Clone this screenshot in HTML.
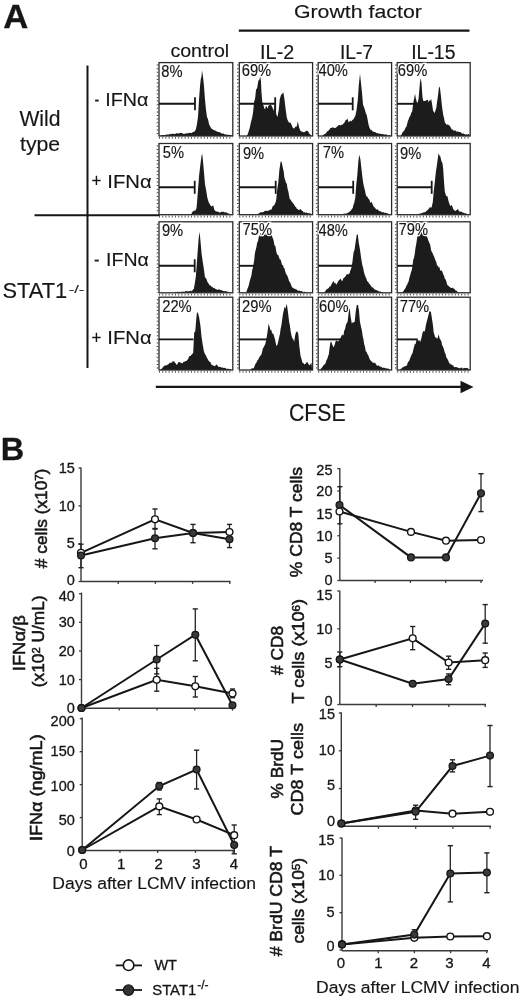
<!DOCTYPE html>
<html><head><meta charset="utf-8"><style>
html,body{margin:0;padding:0;background:#fff;}
svg{display:block;filter:blur(0.3px);}
text{font-family:"Liberation Sans", sans-serif; fill:#161616; stroke:#161616; stroke-width:0.3px;}
.yl{stroke-width:0.55px;}
.ta{stroke-width:0.15px;}
.halo{stroke:#fff; fill:#fff; stroke-width:2.6px;}
</style></head><body>
<svg width="520" height="998" viewBox="0 0 520 998">
<rect width="520" height="998" fill="#fff"/>
<g transform="matrix(0.9913,0,0,0.9417,0.33,1.63)"><text id="tA" x="3" y="28" font-size="35" text-anchor="start" font-weight="bold" >A</text></g>
<g transform="matrix(1.0664,0,0,0.9600,-19.58,0.62)"><text id="tGF" class="ta" x="294" y="17.8" font-size="20" text-anchor="start" font-weight="normal" >Growth factor</text></g>
<line x1="238.8" y1="30.6" x2="469.5" y2="30.6" stroke="#161616" stroke-width="2.2" />
<g transform="matrix(1.0161,0,0,0.9200,-2.95,3.94)"><text id="tctl" class="ta" x="170.6" y="57.5" font-size="19.3" text-anchor="start" font-weight="normal" >control</text></g>
<g transform="matrix(1.0433,0,0,1.0846,-12.70,-4.99)"><text id="tIL2" class="ta" x="261.5" y="59" font-size="19" text-anchor="start" font-weight="normal" >IL-2</text></g>
<g transform="matrix(1.0100,0,0,1.1000,-5.44,-5.60)"><text id="tIL7" class="ta" x="342" y="59" font-size="19" text-anchor="start" font-weight="normal" >IL-7</text></g>
<g transform="matrix(1.0244,0,0,1.1000,-11.50,-5.60)"><text id="tIL15" class="ta" x="412.6" y="59" font-size="19" text-anchor="start" font-weight="normal" >IL-15</text></g>
<g transform="matrix(1.0075,0,0,1.0267,0.06,-2.93)"><text id="tWild" class="ta" x="19.2" y="125.4" font-size="21" text-anchor="start" font-weight="normal" >Wild</text></g>
<g transform="matrix(1.0132,0,0,1.0000,-0.78,0.00)"><text id="ttype" class="ta" x="20.5" y="151.5" font-size="21" text-anchor="start" font-weight="normal" >type</text></g>
<g transform="matrix(0.7600,0,0,1.0000,22.80,0.00)"><text id="tsg0" class="ta" x="94.5" y="106.5" font-size="19" text-anchor="start" font-weight="normal" >-</text></g>
<g transform="matrix(1.0375,0,0,1.0000,-5.55,-0.50)"><text id="tifn0" class="ta" x="106.8" y="106.5" font-size="19" text-anchor="start" font-weight="normal" >IFN&#945;</text></g>
<g transform="matrix(0.8900,0,0,1.0000,10.02,0.00)"><text id="tsg1" class="ta" x="91.5" y="187.3" font-size="19" text-anchor="start" font-weight="normal" >+</text></g>
<g transform="matrix(1.0667,0,0,0.9846,-8.53,3.18)"><text id="tifn1" class="ta" x="108.6" y="187.3" font-size="19" text-anchor="start" font-weight="normal" >IFN&#945;</text></g>
<g transform="matrix(0.8600,0,0,1.0000,12.80,0.00)"><text id="tsg2" class="ta" x="94.5" y="266.5" font-size="19" text-anchor="start" font-weight="normal" >-</text></g>
<g transform="matrix(1.0275,0,0,1.0000,-3.67,-0.50)"><text id="tifn2" class="ta" x="106.8" y="266.5" font-size="19" text-anchor="start" font-weight="normal" >IFN&#945;</text></g>
<g transform="matrix(0.8900,0,0,1.0000,10.02,0.00)"><text id="tsg3" class="ta" x="91.5" y="343.8" font-size="19" text-anchor="start" font-weight="normal" >+</text></g>
<g transform="matrix(1.0667,0,0,1.0000,-8.53,-0.20)"><text id="tifn3" class="ta" x="108.6" y="343.8" font-size="19" text-anchor="start" font-weight="normal" >IFN&#945;</text></g>
<g transform="matrix(1.0644,0,0,1.0500,-1.52,-15.45)"><text id="tSTAT" class="ta" x="3.8" y="298.5" font-size="20.5" text-anchor="start" font-weight="normal" >STAT1</text></g>
<g transform="matrix(1.2727,0,0,0.7778,-20.36,64.73)"><text id="tsup" class="ta" x="70" y="293.5" font-size="13" text-anchor="start" font-weight="normal" >-/-</text></g>
<line x1="87.5" y1="65.5" x2="87.5" y2="368" stroke="#161616" stroke-width="2" />
<line x1="34.5" y1="215.2" x2="160" y2="215.2" stroke="#161616" stroke-width="2" />
<line x1="155.8" y1="386.9" x2="462" y2="386.9" stroke="#161616" stroke-width="2.3" />
<polygon points="460.5,380.7 473.5,386.9 460.5,393.3" fill="#161616"/>
<g transform="matrix(1.0111,0,0,1.1000,-4.23,-41.60)"><text id="tCFSE" class="ta" x="290" y="420.4" font-size="21" text-anchor="start" font-weight="normal" >CFSE</text></g>
<polygon points="160.0,136.0 160.0,135.8 160.8,135.6 161.7,135.3 162.5,135.0 163.3,135.2 164.2,135.0 165.0,135.2 165.8,134.7 166.7,134.6 167.5,134.6 168.3,134.7 169.2,134.2 170.0,133.8 170.8,134.2 171.7,133.9 172.5,133.5 173.3,134.1 174.2,134.1 175.0,133.8 175.8,133.8 176.7,133.1 177.5,133.5 178.3,133.6 179.2,133.3 180.0,133.0 180.8,132.7 181.7,133.1 182.5,133.4 183.3,133.7 184.2,133.9 185.0,133.5 185.8,133.8 186.7,133.1 187.5,133.6 188.3,133.2 189.2,132.6 190.0,133.2 190.8,132.7 191.6,132.9 192.4,132.6 193.2,131.7 194.0,132.0 195.0,130.9 196.0,128.7 197.0,123.7 198.0,116.8 199.0,100.0 200.0,86.3 200.8,78.8 201.5,76.4 202.0,70.2 203.0,76.7 204.0,86.3 205.0,99.4 206.0,110.0 207.0,117.0 208.0,119.2 209.0,124.1 210.0,126.3 211.0,128.1 211.8,128.9 212.5,129.1 213.2,130.1 214.0,130.1 214.8,130.5 215.6,130.7 216.4,131.3 217.2,131.5 218.0,132.1 218.8,132.1 219.6,132.3 220.4,132.6 221.2,133.3 222.0,133.7 222.8,133.6 223.5,133.4 224.2,134.1 225.0,134.4 225.8,134.5 226.5,134.6 227.2,134.7 228.0,134.9 228.8,134.7 229.6,134.8 230.4,135.3 231.2,135.1 232.0,135.5 232.0,136.0" fill="#1c1c1c"/>
<rect x="159.0" y="62.6" width="73.8" height="73.4" fill="none" stroke="#2a2a2a" stroke-width="1.3"/>
<line x1="157.5" y1="64.6" x2="157.5" y2="136.0" stroke="#444" stroke-width="1.6" stroke-dasharray="1 2.6"/>
<line x1="159.0" y1="137.8" x2="232.8" y2="137.8" stroke="#555" stroke-width="1.8" stroke-dasharray="1 2.2"/>
<line x1="159.0" y1="103.8" x2="195.0" y2="103.8" stroke="#161616" stroke-width="1.9" />
<line x1="195.0" y1="97.3" x2="195.0" y2="110.3" stroke="#161616" stroke-width="1.8" />
<text transform="translate(161.2,76.8) scale(0.92,1)" x="0" y="0" font-size="16" class="halo">8%</text>
<text transform="translate(161.2,76.8) scale(0.92,1)" x="0" y="0" font-size="16" class="ta">8%</text>
<polygon points="246.8,136.0 246.8,135.7 247.6,134.5 248.3,132.6 249.1,129.7 249.8,127.7 250.6,123.8 251.4,120.3 252.2,117.5 253.0,112.8 254.2,101.5 255.2,98.1 256.0,89.7 257.2,88.0 258.3,80.8 259.4,79.7 260.2,75.7 261.0,81.8 261.4,91.0 262.2,101.3 263.0,104.6 263.8,106.2 264.5,109.1 265.2,108.7 266.0,105.7 266.8,106.7 267.5,108.8 268.2,106.2 269.0,105.2 269.8,105.1 270.6,104.6 271.4,105.4 272.2,107.0 272.9,108.5 273.7,110.7 274.4,106.8 275.2,102.5 276.3,114.6 277.5,117.1 278.8,109.4 279.8,99.0 281.0,94.9 282.2,93.7 283.4,92.4 284.5,99.4 285.5,108.3 286.8,117.4 287.6,120.1 288.3,121.4 289.1,122.6 289.8,122.8 290.6,122.7 291.4,124.6 292.2,126.6 292.9,127.7 293.7,128.5 294.4,128.2 295.2,127.1 296.0,126.5 296.8,126.4 297.8,121.3 299.0,127.2 299.8,129.3 300.6,131.0 301.4,131.4 302.1,131.4 302.9,131.9 303.7,132.3 304.5,132.2 305.2,131.6 306.0,131.1 306.8,130.8 307.6,131.0 308.3,131.8 309.1,133.3 309.9,134.3 310.6,134.7 311.4,135.4 311.4,136.0" fill="#1c1c1c"/>
<rect x="239.3" y="62.6" width="73.3" height="73.4" fill="none" stroke="#2a2a2a" stroke-width="1.3"/>
<line x1="237.8" y1="64.6" x2="237.8" y2="136.0" stroke="#444" stroke-width="1.6" stroke-dasharray="1 2.6"/>
<line x1="239.3" y1="137.8" x2="312.6" y2="137.8" stroke="#555" stroke-width="1.8" stroke-dasharray="1 2.2"/>
<line x1="239.3" y1="103.8" x2="275.2" y2="103.8" stroke="#161616" stroke-width="1.9" />
<line x1="275.2" y1="97.3" x2="275.2" y2="110.3" stroke="#161616" stroke-width="1.8" />
<text transform="translate(241.7,76) scale(0.92,1)" x="0" y="0" font-size="16" class="halo">69%</text>
<text transform="translate(241.7,76) scale(0.92,1)" x="0" y="0" font-size="16" class="ta">69%</text>
<polygon points="321.9,136.0 321.9,136.0 322.7,135.9 323.4,134.7 324.2,134.2 325.0,134.1 325.8,133.3 326.5,132.5 327.3,131.3 328.1,130.9 328.9,130.1 329.6,129.4 330.4,128.0 331.3,127.9 332.3,127.4 333.2,127.3 334.1,127.9 334.9,128.1 335.8,127.8 336.9,126.8 338.0,125.7 338.8,125.1 339.6,125.0 340.4,125.5 341.2,125.1 341.9,124.6 342.7,124.8 343.4,123.6 344.2,123.1 345.0,121.4 345.8,119.9 346.6,119.7 347.3,118.5 348.1,120.4 348.8,122.4 349.6,121.6 350.4,120.4 351.2,121.5 352.0,120.6 352.7,119.7 353.5,119.3 354.4,117.5 355.3,116.0 356.5,110.4 357.8,100.1 358.8,85.1 360.0,73.7 360.8,81.2 361.9,91.7 363.0,104.5 364.2,107.8 365.0,110.0 365.8,113.3 366.6,114.7 367.3,117.7 368.5,124.4 369.4,127.5 370.4,129.7 371.2,129.7 371.9,130.4 372.7,131.4 373.5,131.7 374.2,131.9 375.0,132.0 375.8,132.4 376.5,133.2 377.3,132.8 378.1,133.7 378.9,133.2 379.6,133.9 380.4,133.5 381.2,134.2 382.0,134.1 382.7,134.1 383.5,134.2 384.3,134.5 385.0,134.5 385.8,134.4 386.6,134.5 387.3,134.9 388.1,135.4 388.9,135.3 389.7,135.0 390.4,135.8 391.2,135.7 391.2,136.0" fill="#1c1c1c"/>
<rect x="318.2" y="62.6" width="73.4" height="73.4" fill="none" stroke="#2a2a2a" stroke-width="1.3"/>
<line x1="316.7" y1="64.6" x2="316.7" y2="136.0" stroke="#444" stroke-width="1.6" stroke-dasharray="1 2.6"/>
<line x1="318.2" y1="137.8" x2="391.6" y2="137.8" stroke="#555" stroke-width="1.8" stroke-dasharray="1 2.2"/>
<line x1="318.2" y1="103.8" x2="352.7" y2="103.8" stroke="#161616" stroke-width="1.9" />
<line x1="352.7" y1="97.3" x2="352.7" y2="110.3" stroke="#161616" stroke-width="1.8" />
<text transform="translate(318.5,76.2) scale(0.92,1)" x="0" y="0" font-size="16" class="halo">40%</text>
<text transform="translate(318.5,76.2) scale(0.92,1)" x="0" y="0" font-size="16" class="ta">40%</text>
<polygon points="400.9,136.0 400.9,135.8 401.7,134.2 402.5,132.2 403.3,131.6 404.0,130.9 404.8,129.5 405.6,127.5 406.3,126.9 407.1,124.2 407.9,121.1 408.6,119.5 409.4,116.9 410.2,116.2 411.2,113.0 412.2,111.2 413.2,103.6 414.3,97.4 415.1,93.7 415.8,98.6 417.1,103.1 417.9,101.7 418.6,98.6 419.8,84.2 420.6,78.1 421.4,82.1 422.5,96.9 423.2,100.9 424.0,100.7 424.8,101.1 425.5,101.3 426.3,100.0 427.1,99.9 427.9,99.7 428.6,102.5 429.4,100.2 430.2,100.7 431.2,99.0 432.2,105.0 433.2,111.4 434.0,111.6 434.8,113.4 435.6,109.8 436.3,108.1 437.1,101.7 437.8,96.9 438.9,88.0 439.8,86.4 440.9,95.7 442.0,106.4 443.2,114.8 444.0,118.0 444.8,122.3 445.6,123.2 446.3,124.4 447.1,124.9 447.9,124.1 448.6,125.2 449.4,125.3 450.2,126.7 450.9,127.8 451.7,129.5 452.5,129.2 453.2,130.4 454.0,130.5 454.8,130.5 455.6,130.5 456.3,131.6 457.1,131.9 457.8,131.0 458.6,132.1 459.4,132.0 460.1,132.0 460.9,132.5 461.7,133.3 462.5,133.7 463.2,133.2 464.0,134.1 464.7,133.9 465.5,134.8 466.3,134.3 467.1,134.6 467.8,134.6 468.6,134.0 469.4,133.8 469.4,136.0" fill="#1c1c1c"/>
<rect x="397.2" y="62.6" width="73.0" height="73.4" fill="none" stroke="#2a2a2a" stroke-width="1.3"/>
<line x1="395.7" y1="64.6" x2="395.7" y2="136.0" stroke="#444" stroke-width="1.6" stroke-dasharray="1 2.6"/>
<line x1="397.2" y1="137.8" x2="470.2" y2="137.8" stroke="#555" stroke-width="1.8" stroke-dasharray="1 2.2"/>
<line x1="397.2" y1="103.8" x2="416.0" y2="103.8" stroke="#161616" stroke-width="1.9" />
<text transform="translate(397.8,76.2) scale(0.92,1)" x="0" y="0" font-size="16" class="halo">69%</text>
<text transform="translate(397.8,76.2) scale(0.92,1)" x="0" y="0" font-size="16" class="ta">69%</text>
<polygon points="191.2,214.7 191.2,214.4 191.9,212.7 192.7,211.4 193.6,210.9 194.4,210.6 195.3,210.7 196.5,208.2 197.3,199.1 198.1,188.4 199.2,174.4 200.4,164.8 201.5,155.8 202.2,153.8 203.0,161.3 203.9,171.2 205.0,184.3 206.1,190.1 207.3,197.6 208.1,200.5 208.8,202.5 209.6,203.8 210.4,205.3 211.2,206.5 212.2,205.9 213.2,205.2 214.2,209.5 215.0,210.6 215.7,211.2 216.5,211.5 217.3,211.4 218.1,211.9 218.8,211.7 219.6,212.7 220.4,212.5 221.1,211.9 221.9,211.5 222.7,211.9 223.5,211.8 224.2,212.3 225.0,212.4 225.8,212.3 226.6,212.6 227.3,213.1 228.1,213.4 228.8,213.5 229.6,213.9 230.4,214.6 231.2,214.6 231.2,214.7" fill="#1c1c1c"/>
<rect x="159.0" y="143.5" width="73.8" height="71.2" fill="none" stroke="#2a2a2a" stroke-width="1.3"/>
<line x1="157.5" y1="145.5" x2="157.5" y2="214.7" stroke="#444" stroke-width="1.6" stroke-dasharray="1 2.6"/>
<line x1="159.0" y1="216.5" x2="232.8" y2="216.5" stroke="#555" stroke-width="1.8" stroke-dasharray="1 2.2"/>
<line x1="159.0" y1="187.3" x2="194.7" y2="187.3" stroke="#161616" stroke-width="1.9" />
<line x1="194.7" y1="180.8" x2="194.7" y2="193.8" stroke="#161616" stroke-width="1.8" />
<text transform="translate(162.7,158.2) scale(0.92,1)" x="0" y="0" font-size="16" class="halo">5%</text>
<text transform="translate(162.7,158.2) scale(0.92,1)" x="0" y="0" font-size="16" class="ta">5%</text>
<polygon points="256.0,214.7 256.0,214.7 256.8,214.4 257.5,214.1 258.2,213.8 259.0,213.2 259.8,213.1 260.6,212.1 261.4,212.2 262.1,212.4 262.9,211.9 263.7,211.9 264.5,210.9 265.2,211.1 266.0,210.7 266.8,210.8 267.9,210.9 269.0,210.3 269.8,210.0 270.6,209.5 271.4,209.7 272.1,208.0 272.9,205.7 273.9,205.8 274.8,204.1 275.6,202.5 276.3,199.3 277.2,189.6 278.3,182.7 279.4,169.7 280.6,161.7 281.5,161.5 282.5,166.2 283.7,171.5 284.4,177.8 285.2,180.1 286.0,182.8 286.8,183.7 287.6,188.9 288.3,191.3 289.1,195.7 289.8,199.3 290.6,199.6 291.4,201.3 292.2,202.0 292.9,203.0 293.7,203.9 294.5,205.3 295.2,206.8 296.0,207.1 296.8,208.7 297.5,209.0 298.3,209.8 299.1,210.1 299.8,209.4 300.6,209.0 301.4,210.0 302.1,211.0 302.9,211.1 303.7,212.8 304.5,212.0 305.2,212.8 306.0,213.0 306.8,212.3 307.5,213.2 308.3,212.9 309.1,213.4 309.9,213.2 310.6,213.6 311.4,214.0 312.2,214.6 312.2,214.7" fill="#1c1c1c"/>
<rect x="239.3" y="143.5" width="73.3" height="71.2" fill="none" stroke="#2a2a2a" stroke-width="1.3"/>
<line x1="237.8" y1="145.5" x2="237.8" y2="214.7" stroke="#444" stroke-width="1.6" stroke-dasharray="1 2.6"/>
<line x1="239.3" y1="216.5" x2="312.6" y2="216.5" stroke="#555" stroke-width="1.8" stroke-dasharray="1 2.2"/>
<line x1="239.3" y1="187.3" x2="275.7" y2="187.3" stroke="#161616" stroke-width="1.9" />
<line x1="275.7" y1="180.8" x2="275.7" y2="193.8" stroke="#161616" stroke-width="1.8" />
<text transform="translate(242.89999999999998,158.5) scale(0.92,1)" x="0" y="0" font-size="16" class="halo">9%</text>
<text transform="translate(242.89999999999998,158.5) scale(0.92,1)" x="0" y="0" font-size="16" class="ta">9%</text>
<polygon points="341.2,214.7 341.2,214.7 342.0,214.7 342.7,214.2 343.5,213.8 344.3,213.4 345.0,213.8 345.8,213.5 346.6,213.4 347.3,212.8 348.1,212.9 348.8,212.1 349.6,211.8 350.4,211.0 351.2,209.9 351.9,208.9 352.7,207.9 353.4,204.9 354.2,203.1 355.3,197.6 356.2,185.5 357.3,174.9 358.4,160.9 359.3,154.8 360.4,159.2 361.5,169.2 362.7,179.5 363.4,184.0 364.2,187.6 365.0,190.6 365.8,194.7 366.6,196.5 367.3,196.6 368.1,198.6 368.8,198.7 369.6,200.2 370.4,203.3 371.1,202.0 371.9,202.2 372.7,204.5 373.5,206.2 374.2,207.1 375.0,208.0 375.8,208.8 376.5,209.8 377.3,209.1 378.1,210.0 378.8,210.7 379.6,210.9 380.4,211.5 381.1,211.3 381.9,212.4 382.7,212.3 383.5,212.1 384.2,212.9 385.0,212.7 385.8,212.8 386.5,213.3 387.3,213.2 388.1,213.5 388.9,214.3 389.6,214.3 390.4,214.0 391.2,214.6 391.2,214.7" fill="#1c1c1c"/>
<rect x="318.2" y="143.5" width="73.4" height="71.2" fill="none" stroke="#2a2a2a" stroke-width="1.3"/>
<line x1="316.7" y1="145.5" x2="316.7" y2="214.7" stroke="#444" stroke-width="1.6" stroke-dasharray="1 2.6"/>
<line x1="318.2" y1="216.5" x2="391.6" y2="216.5" stroke="#555" stroke-width="1.8" stroke-dasharray="1 2.2"/>
<line x1="318.2" y1="187.3" x2="353.2" y2="187.3" stroke="#161616" stroke-width="1.9" />
<line x1="353.2" y1="180.8" x2="353.2" y2="193.8" stroke="#161616" stroke-width="1.8" />
<text transform="translate(322.7,158.2) scale(0.92,1)" x="0" y="0" font-size="16" class="halo">7%</text>
<text transform="translate(322.7,158.2) scale(0.92,1)" x="0" y="0" font-size="16" class="ta">7%</text>
<polygon points="415.5,214.7 415.5,214.5 416.3,214.2 417.1,214.4 417.8,213.8 418.6,214.1 419.4,213.8 420.1,213.4 420.9,213.6 421.7,213.1 422.5,213.1 423.2,212.5 424.0,212.2 424.8,212.2 425.6,212.1 426.3,210.9 427.1,210.5 427.9,209.8 428.6,209.1 429.4,207.8 430.2,206.8 430.9,207.9 431.7,207.1 432.8,202.1 433.7,191.8 434.8,181.9 435.8,172.4 437.1,163.8 437.8,158.5 438.6,153.0 439.4,155.4 440.2,156.1 441.4,160.9 442.5,163.2 443.2,169.1 444.0,181.7 444.8,191.6 446.0,195.8 446.8,196.0 447.5,196.6 448.6,201.6 449.4,203.8 450.2,205.9 450.9,205.8 451.7,204.9 452.4,206.6 453.2,209.3 454.0,209.8 454.7,210.7 455.5,211.0 456.3,210.0 457.0,210.3 457.8,208.7 458.6,210.3 459.4,211.8 460.2,211.3 460.9,211.9 461.7,211.6 462.5,212.5 463.3,212.8 464.0,212.8 464.8,213.4 465.5,213.1 466.3,213.7 467.1,213.9 468.0,214.1 468.9,214.3 469.7,214.6 469.7,214.7" fill="#1c1c1c"/>
<rect x="397.2" y="143.5" width="73.0" height="71.2" fill="none" stroke="#2a2a2a" stroke-width="1.3"/>
<line x1="395.7" y1="145.5" x2="395.7" y2="214.7" stroke="#444" stroke-width="1.6" stroke-dasharray="1 2.6"/>
<line x1="397.2" y1="216.5" x2="470.2" y2="216.5" stroke="#555" stroke-width="1.8" stroke-dasharray="1 2.2"/>
<line x1="397.2" y1="187.3" x2="431.7" y2="187.3" stroke="#161616" stroke-width="1.9" />
<line x1="431.7" y1="180.8" x2="431.7" y2="193.8" stroke="#161616" stroke-width="1.8" />
<text transform="translate(400.09999999999997,158.5) scale(0.92,1)" x="0" y="0" font-size="16" class="halo">9%</text>
<text transform="translate(400.09999999999997,158.5) scale(0.92,1)" x="0" y="0" font-size="16" class="ta">9%</text>
<polygon points="175.0,292.8 175.0,292.4 175.0,292.6 175.8,291.8 176.5,292.3 177.3,291.7 178.1,291.8 178.9,292.4 179.6,291.6 180.4,292.0 181.2,291.8 181.9,291.7 182.7,291.7 183.5,291.4 184.3,291.9 185.0,291.2 185.8,291.3 186.6,291.0 187.3,291.2 188.1,291.2 188.9,291.6 189.6,291.1 190.4,290.8 191.1,290.8 191.9,291.5 192.9,289.5 193.8,288.9 194.7,284.0 195.8,276.8 196.8,263.7 197.8,249.5 198.7,238.0 199.6,231.8 200.5,241.3 201.6,253.7 202.7,261.6 203.9,269.3 205.0,277.4 205.8,278.0 206.5,279.0 207.3,281.8 208.1,282.7 208.9,284.0 209.6,285.2 210.4,285.4 211.2,286.1 211.9,287.3 212.7,287.0 213.5,288.3 214.2,287.8 215.0,288.8 215.8,289.0 216.5,289.6 217.3,289.7 218.1,289.5 218.8,289.4 219.6,289.5 220.4,290.1 221.2,290.3 222.0,290.1 222.7,291.1 223.5,290.9 224.3,291.3 225.0,291.0 225.8,291.3 226.6,291.2 227.3,291.7 228.1,291.8 228.9,292.1 229.7,292.2 230.4,292.7 231.2,292.6 231.2,292.8" fill="#1c1c1c"/>
<rect x="159.0" y="221.8" width="73.8" height="71.0" fill="none" stroke="#2a2a2a" stroke-width="1.3"/>
<line x1="157.5" y1="223.8" x2="157.5" y2="292.8" stroke="#444" stroke-width="1.6" stroke-dasharray="1 2.6"/>
<line x1="159.0" y1="294.6" x2="232.8" y2="294.6" stroke="#555" stroke-width="1.8" stroke-dasharray="1 2.2"/>
<line x1="159.0" y1="265.8" x2="194.7" y2="265.8" stroke="#161616" stroke-width="1.9" />
<line x1="194.7" y1="259.3" x2="194.7" y2="272.3" stroke="#161616" stroke-width="1.8" />
<text transform="translate(161.89999999999998,235.7) scale(0.92,1)" x="0" y="0" font-size="16" class="halo">9%</text>
<text transform="translate(161.89999999999998,235.7) scale(0.92,1)" x="0" y="0" font-size="16" class="ta">9%</text>
<polygon points="246.0,292.8 246.0,292.8 246.8,290.7 247.5,288.4 248.5,286.2 249.5,281.9 250.4,278.8 251.4,275.8 252.2,270.1 253.0,267.3 254.2,259.9 254.9,253.3 255.7,249.8 256.4,247.3 257.2,242.4 258.0,241.3 258.8,236.4 259.7,235.3 260.6,233.1 261.4,234.2 262.2,235.5 262.9,234.6 263.7,236.3 264.4,234.0 265.2,235.4 266.0,233.0 266.8,234.7 267.9,235.4 269.0,234.5 270.0,233.8 271.0,233.0 271.9,236.2 272.9,238.2 273.7,240.9 274.5,245.5 275.4,246.1 276.3,251.8 277.3,254.7 278.3,255.0 279.1,257.6 279.8,259.5 280.6,259.6 281.4,262.3 282.1,265.3 282.9,264.7 283.7,267.7 284.4,268.3 285.2,271.2 286.0,273.9 286.7,274.5 287.5,276.3 288.3,278.3 289.0,280.9 289.8,281.9 290.6,283.5 291.4,285.7 292.2,287.7 293.0,287.6 293.7,288.2 294.5,288.9 295.2,288.7 296.0,289.6 296.8,289.6 297.5,290.4 298.3,290.9 299.1,290.3 299.9,291.0 300.6,291.2 301.4,291.0 302.2,291.3 303.0,292.1 303.7,292.2 304.5,291.6 305.2,292.2 306.0,292.6 306.8,292.1 307.5,292.6 308.3,292.6 308.3,292.8" fill="#1c1c1c"/>
<rect x="239.3" y="221.8" width="73.3" height="71.0" fill="none" stroke="#2a2a2a" stroke-width="1.3"/>
<line x1="237.8" y1="223.8" x2="237.8" y2="292.8" stroke="#444" stroke-width="1.6" stroke-dasharray="1 2.6"/>
<line x1="239.3" y1="294.6" x2="312.6" y2="294.6" stroke="#555" stroke-width="1.8" stroke-dasharray="1 2.2"/>
<line x1="239.3" y1="265.8" x2="256.0" y2="265.8" stroke="#161616" stroke-width="1.9" />
<text transform="translate(242.6,235) scale(0.92,1)" x="0" y="0" font-size="16" class="halo">75%</text>
<text transform="translate(242.6,235) scale(0.92,1)" x="0" y="0" font-size="16" class="ta">75%</text>
<polygon points="324.2,292.8 324.2,292.8 325.0,291.5 325.8,290.4 326.6,289.2 327.3,289.1 328.1,288.4 328.9,287.7 329.6,286.6 330.4,286.5 331.3,284.7 332.2,283.0 333.5,281.1 334.7,283.4 335.4,282.7 336.2,284.7 337.1,283.2 338.1,281.6 338.9,280.3 339.6,279.8 340.8,278.7 341.9,281.3 342.7,280.2 343.5,278.1 344.2,277.8 345.0,276.7 345.8,275.9 346.5,274.4 347.3,274.0 348.1,274.7 348.9,273.4 349.6,273.6 350.4,270.2 351.2,268.5 352.4,262.2 353.5,252.7 354.7,249.0 355.8,240.7 356.8,234.4 357.8,234.6 358.7,242.5 359.9,249.0 361.2,258.6 362.4,265.5 363.1,267.6 363.9,271.8 364.7,274.8 365.5,276.8 366.4,278.8 367.3,281.6 368.1,281.5 368.8,283.2 369.6,284.0 370.4,285.3 371.1,285.7 371.9,287.5 372.7,287.3 373.4,287.9 374.2,289.1 375.0,289.8 375.7,289.7 376.5,290.2 377.3,290.4 378.1,290.8 378.8,291.5 379.6,291.5 380.4,291.6 381.1,292.1 381.9,292.0 382.7,292.6 383.4,292.8 384.2,292.8 384.2,292.8" fill="#1c1c1c"/>
<rect x="318.2" y="221.8" width="73.4" height="71.0" fill="none" stroke="#2a2a2a" stroke-width="1.3"/>
<line x1="316.7" y1="223.8" x2="316.7" y2="292.8" stroke="#444" stroke-width="1.6" stroke-dasharray="1 2.6"/>
<line x1="318.2" y1="294.6" x2="391.6" y2="294.6" stroke="#555" stroke-width="1.8" stroke-dasharray="1 2.2"/>
<line x1="318.2" y1="265.8" x2="352.0" y2="265.8" stroke="#161616" stroke-width="1.9" />
<text transform="translate(318.5,235.7) scale(0.92,1)" x="0" y="0" font-size="16" class="halo">48%</text>
<text transform="translate(318.5,235.7) scale(0.92,1)" x="0" y="0" font-size="16" class="ta">48%</text>
<polygon points="401.7,292.8 401.7,292.8 402.5,292.0 403.2,291.5 404.0,290.3 404.8,289.0 405.5,287.9 406.3,286.1 407.1,284.7 407.8,283.0 408.6,281.5 409.4,277.7 410.1,275.5 410.9,272.5 411.7,270.3 412.5,266.2 413.2,259.7 414.0,258.1 414.8,253.6 415.5,247.8 416.3,243.8 417.1,237.9 418.3,231.8 419.1,233.5 419.8,230.4 420.8,231.5 421.7,232.1 422.6,231.9 423.5,234.8 424.3,233.9 425.1,235.1 425.9,234.6 426.6,236.4 427.4,237.6 428.2,240.2 429.2,242.4 430.2,244.8 431.0,249.7 431.7,251.7 432.5,253.0 433.3,255.1 434.0,256.3 434.8,258.7 435.6,260.7 436.3,261.9 437.1,265.7 437.9,265.5 438.6,267.4 439.4,266.9 440.1,269.9 440.9,271.1 441.7,270.2 442.4,271.7 443.2,274.3 444.0,275.4 444.7,278.4 445.5,279.3 446.3,281.2 447.1,284.4 447.9,285.6 448.6,285.9 449.4,286.7 450.2,287.2 450.9,288.1 451.7,288.1 452.5,287.6 453.2,288.3 454.0,288.7 454.8,289.3 455.5,290.6 456.3,290.6 457.1,291.6 457.8,292.1 458.6,292.8 458.6,292.8" fill="#1c1c1c"/>
<rect x="397.2" y="221.8" width="73.0" height="71.0" fill="none" stroke="#2a2a2a" stroke-width="1.3"/>
<line x1="395.7" y1="223.8" x2="395.7" y2="292.8" stroke="#444" stroke-width="1.6" stroke-dasharray="1 2.6"/>
<line x1="397.2" y1="294.6" x2="470.2" y2="294.6" stroke="#555" stroke-width="1.8" stroke-dasharray="1 2.2"/>
<line x1="397.2" y1="265.8" x2="414.0" y2="265.8" stroke="#161616" stroke-width="1.9" />
<text transform="translate(398.59999999999997,235.2) scale(0.92,1)" x="0" y="0" font-size="16" class="halo">79%</text>
<text transform="translate(398.59999999999997,235.2) scale(0.92,1)" x="0" y="0" font-size="16" class="ta">79%</text>
<polygon points="160.4,370.0 160.4,369.4 161.2,369.0 161.9,368.5 162.7,367.5 163.5,366.5 164.2,366.1 165.0,365.2 165.8,365.6 166.5,365.3 167.3,364.9 168.1,364.3 168.8,363.9 169.6,362.7 170.4,362.9 171.1,362.3 171.9,363.0 172.7,361.1 173.5,361.5 174.2,361.2 175.0,362.7 175.8,363.4 176.5,364.7 177.3,364.4 178.1,362.6 178.8,361.9 179.6,362.3 180.4,362.5 181.2,362.7 181.9,363.5 182.7,363.1 183.5,361.7 184.2,361.9 185.0,361.2 185.8,360.9 186.5,360.9 187.3,359.7 188.1,359.3 188.8,357.1 189.6,356.1 190.4,356.1 191.2,355.0 191.9,354.6 193.2,352.7 194.2,332.4 195.3,331.3 196.2,319.7 197.0,312.0 198.1,313.2 199.2,317.7 200.4,325.4 201.5,336.6 202.7,344.4 203.9,351.3 204.7,353.5 205.5,354.8 206.4,356.6 207.3,358.4 208.1,359.7 208.8,361.1 209.6,361.7 210.4,362.1 211.1,364.2 211.9,364.7 212.7,365.3 213.4,365.5 214.2,366.2 215.0,365.7 215.7,365.6 216.5,364.3 217.3,365.6 218.0,365.9 218.8,367.2 219.6,366.7 220.4,367.1 221.1,367.3 221.9,367.8 222.7,367.4 223.5,367.9 224.2,367.8 225.0,368.0 225.8,368.3 226.5,368.9 227.3,368.6 228.1,369.2 228.9,368.6 229.6,369.4 230.4,369.1 231.2,369.4 231.2,370.0" fill="#1c1c1c"/>
<rect x="159.0" y="297.2" width="73.8" height="72.8" fill="none" stroke="#2a2a2a" stroke-width="1.3"/>
<line x1="157.5" y1="299.2" x2="157.5" y2="370.0" stroke="#444" stroke-width="1.6" stroke-dasharray="1 2.6"/>
<line x1="159.0" y1="371.8" x2="232.8" y2="371.8" stroke="#555" stroke-width="1.8" stroke-dasharray="1 2.2"/>
<line x1="159.0" y1="339.4" x2="193.5" y2="339.4" stroke="#161616" stroke-width="1.9" />
<text transform="translate(162.2,312.2) scale(0.92,1)" x="0" y="0" font-size="16" class="halo">22%</text>
<text transform="translate(162.2,312.2) scale(0.92,1)" x="0" y="0" font-size="16" class="ta">22%</text>
<polygon points="250.6,370.0 250.6,369.2 251.4,368.8 252.2,368.0 252.9,368.5 253.7,368.3 254.4,366.4 255.2,364.4 256.0,362.9 256.8,362.0 257.6,360.0 258.3,359.4 259.1,357.7 259.8,356.6 260.6,355.4 261.4,354.6 262.1,351.9 262.9,348.3 263.7,347.3 264.5,345.4 265.2,344.2 266.0,341.1 266.8,336.6 267.5,332.2 268.6,323.5 269.5,326.6 270.6,330.5 271.4,330.1 272.2,333.7 272.9,333.2 273.7,334.8 274.4,337.3 275.2,340.0 276.3,346.0 277.5,344.6 278.3,341.2 279.1,337.5 279.9,334.3 280.6,328.9 281.4,325.2 282.2,319.4 282.9,314.3 283.7,310.7 284.4,306.7 285.2,308.7 286.0,306.4 286.8,303.8 288.0,312.6 289.1,321.8 289.9,325.4 290.6,330.9 291.4,335.1 292.2,338.3 293.2,339.1 294.2,341.7 294.9,337.0 295.7,333.1 296.4,331.8 297.2,331.2 298.3,334.1 299.4,346.7 300.6,356.3 301.4,358.4 302.2,362.0 303.0,363.3 303.7,363.2 304.5,364.4 305.3,364.1 306.0,363.2 306.8,361.9 307.6,362.3 308.3,363.7 309.1,365.2 309.9,364.7 310.6,364.1 311.4,362.8 312.2,369.4 312.2,370.0" fill="#1c1c1c"/>
<rect x="239.3" y="297.2" width="73.3" height="72.8" fill="none" stroke="#2a2a2a" stroke-width="1.3"/>
<line x1="237.8" y1="299.2" x2="237.8" y2="370.0" stroke="#444" stroke-width="1.6" stroke-dasharray="1 2.6"/>
<line x1="239.3" y1="371.8" x2="312.6" y2="371.8" stroke="#555" stroke-width="1.8" stroke-dasharray="1 2.2"/>
<line x1="239.3" y1="339.4" x2="267.5" y2="339.4" stroke="#161616" stroke-width="1.9" />
<text transform="translate(242.1,312.2) scale(0.92,1)" x="0" y="0" font-size="16" class="halo">29%</text>
<text transform="translate(242.1,312.2) scale(0.92,1)" x="0" y="0" font-size="16" class="ta">29%</text>
<polygon points="320.4,370.0 320.4,369.1 321.2,368.6 321.9,367.5 322.7,366.8 323.5,365.3 324.2,364.5 325.0,364.3 325.8,362.4 326.5,360.1 327.3,358.9 328.1,356.1 328.8,354.5 329.6,347.7 330.4,342.5 331.2,341.4 332.2,344.4 333.5,347.2 334.2,346.3 335.0,343.6 335.8,340.7 336.5,340.3 337.3,341.4 338.1,340.8 338.9,341.4 339.6,339.1 340.6,338.1 341.5,335.7 342.5,334.5 343.5,335.6 344.2,330.6 345.0,329.6 345.8,325.3 346.5,323.6 347.6,321.8 348.8,311.8 349.6,307.4 350.7,317.4 351.9,323.7 352.7,322.3 353.5,322.4 354.7,321.8 355.8,311.0 356.8,304.7 358.1,305.2 359.0,311.1 359.9,321.5 361.2,327.8 361.9,330.3 362.7,336.5 363.4,339.0 364.2,344.2 365.0,346.8 365.8,351.5 366.6,351.7 367.3,354.0 368.1,354.8 368.9,357.0 369.6,358.9 370.4,360.3 371.2,360.9 371.9,361.7 372.7,362.4 373.5,362.9 374.2,362.4 375.0,363.2 375.8,363.6 376.5,365.2 377.3,366.0 378.1,365.3 378.8,365.6 379.6,366.5 380.4,366.7 381.1,366.4 381.9,367.4 382.7,367.9 383.5,367.6 384.2,367.7 385.0,368.1 385.8,368.6 386.5,368.2 387.3,368.4 388.2,368.6 389.1,369.2 390.0,369.4 390.0,370.0" fill="#1c1c1c"/>
<rect x="318.2" y="297.2" width="73.4" height="72.8" fill="none" stroke="#2a2a2a" stroke-width="1.3"/>
<line x1="316.7" y1="299.2" x2="316.7" y2="370.0" stroke="#444" stroke-width="1.6" stroke-dasharray="1 2.6"/>
<line x1="318.2" y1="371.8" x2="391.6" y2="371.8" stroke="#555" stroke-width="1.8" stroke-dasharray="1 2.2"/>
<line x1="318.2" y1="339.4" x2="342.0" y2="339.4" stroke="#161616" stroke-width="1.9" />
<text transform="translate(319.09999999999997,311.7) scale(0.92,1)" x="0" y="0" font-size="16" class="halo">60%</text>
<text transform="translate(319.09999999999997,311.7) scale(0.92,1)" x="0" y="0" font-size="16" class="ta">60%</text>
<polygon points="400.2,370.0 400.2,369.8 400.9,368.4 401.7,368.4 402.4,367.3 403.2,367.5 404.0,366.1 404.8,366.7 405.5,366.1 406.3,365.9 407.1,364.8 407.8,362.6 408.6,361.5 409.4,360.4 410.1,358.2 410.9,356.6 411.7,354.2 412.5,353.2 413.2,350.2 414.0,347.0 414.8,344.0 415.5,344.3 416.3,340.9 417.1,337.8 417.9,339.7 418.6,340.8 419.4,340.2 420.2,341.9 421.4,338.2 422.5,332.7 423.5,331.0 424.8,331.5 426.0,324.4 427.1,320.2 428.2,316.3 429.4,310.9 430.2,311.6 430.9,311.7 432.2,320.2 432.9,325.1 433.7,332.5 434.4,334.6 435.2,337.7 436.0,337.1 436.8,338.6 437.7,338.3 438.6,334.2 439.8,339.1 440.6,339.7 441.4,341.6 442.1,344.9 442.9,346.4 443.9,349.2 444.8,352.5 445.6,353.9 446.3,357.3 447.1,358.4 447.9,359.7 448.6,361.4 449.4,363.6 450.2,363.5 450.9,364.8 451.7,364.6 452.5,365.3 453.2,365.4 454.0,366.9 454.8,367.3 455.6,367.1 456.3,366.9 457.1,367.5 457.8,367.5 458.6,368.1 459.4,368.3 460.1,368.2 460.9,367.8 461.7,367.6 462.4,368.5 463.2,368.6 464.0,367.8 464.8,368.0 465.5,367.9 466.3,368.3 467.1,367.8 467.9,368.2 468.6,369.3 469.4,369.4 469.4,370.0" fill="#1c1c1c"/>
<rect x="397.2" y="297.2" width="73.0" height="72.8" fill="none" stroke="#2a2a2a" stroke-width="1.3"/>
<line x1="395.7" y1="299.2" x2="395.7" y2="370.0" stroke="#444" stroke-width="1.6" stroke-dasharray="1 2.6"/>
<line x1="397.2" y1="371.8" x2="470.2" y2="371.8" stroke="#555" stroke-width="1.8" stroke-dasharray="1 2.2"/>
<line x1="397.2" y1="339.4" x2="417.0" y2="339.4" stroke="#161616" stroke-width="1.9" />
<text transform="translate(399.7,311.7) scale(0.92,1)" x="0" y="0" font-size="16" class="halo">77%</text>
<text transform="translate(399.7,311.7) scale(0.92,1)" x="0" y="0" font-size="16" class="ta">77%</text>
<g transform="matrix(0.9850,0,0,0.9739,-0.74,11.90)"><text id="tB" x="1.5" y="460" font-size="33" text-anchor="start" font-weight="bold" >B</text></g>
<line x1="81" y1="467.5" x2="81" y2="581.5" stroke="#3a3a3a" stroke-width="1.4" />
<line x1="81" y1="581.5" x2="230.5" y2="581.5" stroke="#3a3a3a" stroke-width="1.4" />
<line x1="78.5" y1="581.5" x2="81" y2="581.5" stroke="#3a3a3a" stroke-width="1.3" />
<text x="74.8" y="585.2" font-size="14.5" text-anchor="end" font-weight="normal" >0</text>
<line x1="78.5" y1="543.665" x2="81" y2="543.665" stroke="#3a3a3a" stroke-width="1.3" />
<text x="74.8" y="548.2" font-size="14.5" text-anchor="end" font-weight="normal" >5</text>
<line x1="78.5" y1="505.83" x2="81" y2="505.83" stroke="#3a3a3a" stroke-width="1.3" />
<text x="74.8" y="510.8" font-size="14.5" text-anchor="end" font-weight="normal" >10</text>
<line x1="78.5" y1="467.995" x2="81" y2="467.995" stroke="#3a3a3a" stroke-width="1.3" />
<text x="74.8" y="473.09999999999997" font-size="14.5" text-anchor="end" font-weight="normal" >15</text>
<line x1="118.2" y1="581.5" x2="118.2" y2="583.9" stroke="#3a3a3a" stroke-width="1.3" />
<line x1="155.4" y1="581.5" x2="155.4" y2="583.9" stroke="#3a3a3a" stroke-width="1.3" />
<line x1="192.60000000000002" y1="581.5" x2="192.60000000000002" y2="583.9" stroke="#3a3a3a" stroke-width="1.3" />
<line x1="229.8" y1="581.5" x2="229.8" y2="583.9" stroke="#3a3a3a" stroke-width="1.3" />
<line x1="81" y1="544.2" x2="81" y2="567.7" stroke="#222" stroke-width="1.3" />
<line x1="78.4" y1="544.2" x2="83.6" y2="544.2" stroke="#222" stroke-width="1.4" />
<line x1="78.4" y1="567.7" x2="83.6" y2="567.7" stroke="#222" stroke-width="1.4" />
<line x1="155" y1="509" x2="155" y2="529" stroke="#222" stroke-width="1.3" />
<line x1="152.4" y1="509" x2="157.6" y2="509" stroke="#222" stroke-width="1.4" />
<line x1="152.4" y1="529" x2="157.6" y2="529" stroke="#222" stroke-width="1.4" />
<line x1="155" y1="528.5" x2="155" y2="548.8" stroke="#222" stroke-width="1.3" />
<line x1="152.4" y1="528.5" x2="157.6" y2="528.5" stroke="#222" stroke-width="1.4" />
<line x1="152.4" y1="548.8" x2="157.6" y2="548.8" stroke="#222" stroke-width="1.4" />
<line x1="193" y1="524.4" x2="193" y2="542.7" stroke="#222" stroke-width="1.3" />
<line x1="190.4" y1="524.4" x2="195.6" y2="524.4" stroke="#222" stroke-width="1.4" />
<line x1="190.4" y1="542.7" x2="195.6" y2="542.7" stroke="#222" stroke-width="1.4" />
<line x1="229.5" y1="524.4" x2="229.5" y2="547.6" stroke="#222" stroke-width="1.3" />
<line x1="226.9" y1="524.4" x2="232.1" y2="524.4" stroke="#222" stroke-width="1.4" />
<line x1="226.9" y1="547.6" x2="232.1" y2="547.6" stroke="#222" stroke-width="1.4" />
<polyline points="81,552.8 155,519.3 193,533 229.5,532" fill="none" stroke="#161616" stroke-width="2"/>
<polyline points="81,555.5 155,538.3 193,533 229.5,539.3" fill="none" stroke="#161616" stroke-width="2"/>
<circle cx="81" cy="552.8" r="3.4" fill="#fff" stroke="#161616" stroke-width="1.4"/>
<circle cx="155" cy="519.3" r="3.4" fill="#fff" stroke="#161616" stroke-width="1.4"/>
<circle cx="193" cy="533" r="3.4" fill="#fff" stroke="#161616" stroke-width="1.4"/>
<circle cx="229.5" cy="532" r="3.4" fill="#fff" stroke="#161616" stroke-width="1.4"/>
<circle cx="81" cy="555.5" r="3.4" fill="#3a3a3a" stroke="#161616" stroke-width="1.3"/>
<circle cx="155" cy="538.3" r="3.4" fill="#3a3a3a" stroke="#161616" stroke-width="1.3"/>
<circle cx="193" cy="533" r="3.4" fill="#3a3a3a" stroke="#161616" stroke-width="1.3"/>
<circle cx="229.5" cy="539.3" r="3.4" fill="#3a3a3a" stroke="#161616" stroke-width="1.3"/>
<line x1="81.5" y1="592.5" x2="81.5" y2="708.2" stroke="#3a3a3a" stroke-width="1.4" />
<line x1="81.5" y1="708.2" x2="233.5" y2="708.2" stroke="#3a3a3a" stroke-width="1.4" />
<line x1="79.0" y1="708.2" x2="81.5" y2="708.2" stroke="#3a3a3a" stroke-width="1.3" />
<text x="74.8" y="712.7" font-size="14.5" text-anchor="end" font-weight="normal" >0</text>
<line x1="79.0" y1="679.59" x2="81.5" y2="679.59" stroke="#3a3a3a" stroke-width="1.3" />
<text x="74.8" y="684.6" font-size="14.5" text-anchor="end" font-weight="normal" >10</text>
<line x1="79.0" y1="650.98" x2="81.5" y2="650.98" stroke="#3a3a3a" stroke-width="1.3" />
<text x="74.8" y="655.8000000000001" font-size="14.5" text-anchor="end" font-weight="normal" >20</text>
<line x1="79.0" y1="622.37" x2="81.5" y2="622.37" stroke="#3a3a3a" stroke-width="1.3" />
<text x="74.8" y="627.1" font-size="14.5" text-anchor="end" font-weight="normal" >30</text>
<line x1="79.0" y1="593.76" x2="81.5" y2="593.76" stroke="#3a3a3a" stroke-width="1.3" />
<text x="74.8" y="600.5" font-size="14.5" text-anchor="end" font-weight="normal" >40</text>
<line x1="119.25" y1="708.2" x2="119.25" y2="710.6" stroke="#3a3a3a" stroke-width="1.3" />
<line x1="157.0" y1="708.2" x2="157.0" y2="710.6" stroke="#3a3a3a" stroke-width="1.3" />
<line x1="194.75" y1="708.2" x2="194.75" y2="710.6" stroke="#3a3a3a" stroke-width="1.3" />
<line x1="232.5" y1="708.2" x2="232.5" y2="710.6" stroke="#3a3a3a" stroke-width="1.3" />
<line x1="156.7" y1="645.5" x2="156.7" y2="673.9" stroke="#222" stroke-width="1.3" />
<line x1="154.1" y1="645.5" x2="159.29999999999998" y2="645.5" stroke="#222" stroke-width="1.4" />
<line x1="154.1" y1="673.9" x2="159.29999999999998" y2="673.9" stroke="#222" stroke-width="1.4" />
<line x1="156.7" y1="668.3" x2="156.7" y2="691.2" stroke="#222" stroke-width="1.3" />
<line x1="154.1" y1="668.3" x2="159.29999999999998" y2="668.3" stroke="#222" stroke-width="1.4" />
<line x1="154.1" y1="691.2" x2="159.29999999999998" y2="691.2" stroke="#222" stroke-width="1.4" />
<line x1="195.3" y1="608.9" x2="195.3" y2="660.8" stroke="#222" stroke-width="1.3" />
<line x1="192.70000000000002" y1="608.9" x2="197.9" y2="608.9" stroke="#222" stroke-width="1.4" />
<line x1="192.70000000000002" y1="660.8" x2="197.9" y2="660.8" stroke="#222" stroke-width="1.4" />
<line x1="195.3" y1="676.5" x2="195.3" y2="697" stroke="#222" stroke-width="1.3" />
<line x1="192.70000000000002" y1="676.5" x2="197.9" y2="676.5" stroke="#222" stroke-width="1.4" />
<line x1="192.70000000000002" y1="697" x2="197.9" y2="697" stroke="#222" stroke-width="1.4" />
<line x1="232.5" y1="689" x2="232.5" y2="697.7" stroke="#222" stroke-width="1.3" />
<line x1="229.9" y1="689" x2="235.1" y2="689" stroke="#222" stroke-width="1.4" />
<line x1="229.9" y1="697.7" x2="235.1" y2="697.7" stroke="#222" stroke-width="1.4" />
<polyline points="81.5,708 156.7,679.8 195.3,686.3 232.5,693.5" fill="none" stroke="#161616" stroke-width="2"/>
<polyline points="81.5,708 156.7,659.5 195.3,634.7 232.5,705.3" fill="none" stroke="#161616" stroke-width="2"/>
<circle cx="81.5" cy="708" r="3.4" fill="#fff" stroke="#161616" stroke-width="1.4"/>
<circle cx="156.7" cy="679.8" r="3.4" fill="#fff" stroke="#161616" stroke-width="1.4"/>
<circle cx="195.3" cy="686.3" r="3.4" fill="#fff" stroke="#161616" stroke-width="1.4"/>
<circle cx="232.5" cy="693.5" r="3.4" fill="#fff" stroke="#161616" stroke-width="1.4"/>
<circle cx="81.5" cy="708" r="3.4" fill="#3a3a3a" stroke="#161616" stroke-width="1.3"/>
<circle cx="156.7" cy="659.5" r="3.4" fill="#3a3a3a" stroke="#161616" stroke-width="1.3"/>
<circle cx="195.3" cy="634.7" r="3.4" fill="#3a3a3a" stroke="#161616" stroke-width="1.3"/>
<circle cx="232.5" cy="705.3" r="3.4" fill="#3a3a3a" stroke="#161616" stroke-width="1.3"/>
<line x1="82.2" y1="717.5" x2="82.2" y2="850.5" stroke="#3a3a3a" stroke-width="1.4" />
<line x1="82.2" y1="850.5" x2="235" y2="850.5" stroke="#3a3a3a" stroke-width="1.4" />
<line x1="79.7" y1="850.5" x2="82.2" y2="850.5" stroke="#3a3a3a" stroke-width="1.3" />
<text x="74.8" y="855.8000000000001" font-size="14.5" text-anchor="end" font-weight="normal" >0</text>
<line x1="79.7" y1="817.55" x2="82.2" y2="817.55" stroke="#3a3a3a" stroke-width="1.3" />
<text x="74.8" y="824.8000000000001" font-size="14.5" text-anchor="end" font-weight="normal" >50</text>
<line x1="79.7" y1="784.6" x2="82.2" y2="784.6" stroke="#3a3a3a" stroke-width="1.3" />
<text x="74.8" y="790.8000000000001" font-size="14.5" text-anchor="end" font-weight="normal" >100</text>
<line x1="79.7" y1="751.65" x2="82.2" y2="751.65" stroke="#3a3a3a" stroke-width="1.3" />
<text x="74.8" y="756.1" font-size="14.5" text-anchor="end" font-weight="normal" >150</text>
<line x1="79.7" y1="718.7" x2="82.2" y2="718.7" stroke="#3a3a3a" stroke-width="1.3" />
<text x="74.8" y="725.6" font-size="14.5" text-anchor="end" font-weight="normal" >200</text>
<line x1="119.95" y1="850.5" x2="119.95" y2="852.9" stroke="#3a3a3a" stroke-width="1.3" />
<line x1="157.7" y1="850.5" x2="157.7" y2="852.9" stroke="#3a3a3a" stroke-width="1.3" />
<line x1="195.45" y1="850.5" x2="195.45" y2="852.9" stroke="#3a3a3a" stroke-width="1.3" />
<line x1="233.2" y1="850.5" x2="233.2" y2="852.9" stroke="#3a3a3a" stroke-width="1.3" />
<line x1="159.3" y1="782.5" x2="159.3" y2="790" stroke="#222" stroke-width="1.3" />
<line x1="156.70000000000002" y1="782.5" x2="161.9" y2="782.5" stroke="#222" stroke-width="1.4" />
<line x1="156.70000000000002" y1="790" x2="161.9" y2="790" stroke="#222" stroke-width="1.4" />
<line x1="159.3" y1="798.9" x2="159.3" y2="814.6" stroke="#222" stroke-width="1.3" />
<line x1="156.70000000000002" y1="798.9" x2="161.9" y2="798.9" stroke="#222" stroke-width="1.4" />
<line x1="156.70000000000002" y1="814.6" x2="161.9" y2="814.6" stroke="#222" stroke-width="1.4" />
<line x1="196.6" y1="750.2" x2="196.6" y2="789" stroke="#222" stroke-width="1.3" />
<line x1="194.0" y1="750.2" x2="199.2" y2="750.2" stroke="#222" stroke-width="1.4" />
<line x1="194.0" y1="789" x2="199.2" y2="789" stroke="#222" stroke-width="1.4" />
<line x1="234.2" y1="825" x2="234.2" y2="853.8" stroke="#222" stroke-width="1.3" />
<line x1="231.6" y1="825" x2="236.79999999999998" y2="825" stroke="#222" stroke-width="1.4" />
<line x1="231.6" y1="853.8" x2="236.79999999999998" y2="853.8" stroke="#222" stroke-width="1.4" />
<polyline points="82.2,850 159.3,806.4 196.6,819.5 234.2,835.2" fill="none" stroke="#161616" stroke-width="2"/>
<polyline points="82.2,850 159.3,786.1 196.6,769.5 234.2,845" fill="none" stroke="#161616" stroke-width="2"/>
<circle cx="82.2" cy="850" r="3.4" fill="#fff" stroke="#161616" stroke-width="1.4"/>
<circle cx="159.3" cy="806.4" r="3.4" fill="#fff" stroke="#161616" stroke-width="1.4"/>
<circle cx="196.6" cy="819.5" r="3.4" fill="#fff" stroke="#161616" stroke-width="1.4"/>
<circle cx="234.2" cy="835.2" r="3.4" fill="#fff" stroke="#161616" stroke-width="1.4"/>
<circle cx="82.2" cy="850" r="3.4" fill="#3a3a3a" stroke="#161616" stroke-width="1.3"/>
<circle cx="159.3" cy="786.1" r="3.4" fill="#3a3a3a" stroke="#161616" stroke-width="1.3"/>
<circle cx="196.6" cy="769.5" r="3.4" fill="#3a3a3a" stroke="#161616" stroke-width="1.3"/>
<circle cx="234.2" cy="845" r="3.4" fill="#3a3a3a" stroke="#161616" stroke-width="1.3"/>
<text x="83.5" y="868.6" font-size="15" text-anchor="middle" font-weight="normal" >0</text>
<text x="121.1" y="868.6" font-size="15" text-anchor="middle" font-weight="normal" >1</text>
<text x="158.7" y="868.6" font-size="15" text-anchor="middle" font-weight="normal" >2</text>
<text x="196.3" y="868.6" font-size="15" text-anchor="middle" font-weight="normal" >3</text>
<text x="233.9" y="868.6" font-size="15" text-anchor="middle" font-weight="normal" >4</text>
<g transform="matrix(1.0328,0,0,1.0000,-3.64,0.00)"><text id="tDL" class="ta" x="54.2" y="889.3" font-size="17" text-anchor="start" font-weight="normal" >Days after LCMV infection</text></g>
<line x1="339.8" y1="468" x2="339.8" y2="580.5" stroke="#3a3a3a" stroke-width="1.4" />
<line x1="339.8" y1="580.5" x2="483" y2="580.5" stroke="#3a3a3a" stroke-width="1.4" />
<line x1="337.3" y1="580.5" x2="339.8" y2="580.5" stroke="#3a3a3a" stroke-width="1.3" />
<text x="332.5" y="585.0" font-size="14.5" text-anchor="end" font-weight="normal" >0</text>
<line x1="337.3" y1="558.12" x2="339.8" y2="558.12" stroke="#3a3a3a" stroke-width="1.3" />
<text x="332.5" y="563.0" font-size="14.5" text-anchor="end" font-weight="normal" >5</text>
<line x1="337.3" y1="535.74" x2="339.8" y2="535.74" stroke="#3a3a3a" stroke-width="1.3" />
<text x="332.5" y="541.0" font-size="14.5" text-anchor="end" font-weight="normal" >10</text>
<line x1="337.3" y1="513.36" x2="339.8" y2="513.36" stroke="#3a3a3a" stroke-width="1.3" />
<text x="332.5" y="518.8000000000001" font-size="14.5" text-anchor="end" font-weight="normal" >15</text>
<line x1="337.3" y1="490.98" x2="339.8" y2="490.98" stroke="#3a3a3a" stroke-width="1.3" />
<text x="332.5" y="496.09999999999997" font-size="14.5" text-anchor="end" font-weight="normal" >20</text>
<line x1="337.3" y1="468.6" x2="339.8" y2="468.6" stroke="#3a3a3a" stroke-width="1.3" />
<text x="332.5" y="474.9" font-size="14.5" text-anchor="end" font-weight="normal" >25</text>
<line x1="375.1" y1="580.5" x2="375.1" y2="582.9" stroke="#3a3a3a" stroke-width="1.3" />
<line x1="410.4" y1="580.5" x2="410.4" y2="582.9" stroke="#3a3a3a" stroke-width="1.3" />
<line x1="445.7" y1="580.5" x2="445.7" y2="582.9" stroke="#3a3a3a" stroke-width="1.3" />
<line x1="481.0" y1="580.5" x2="481.0" y2="582.9" stroke="#3a3a3a" stroke-width="1.3" />
<line x1="339.8" y1="486.7" x2="339.8" y2="523.8" stroke="#222" stroke-width="1.3" />
<line x1="337.2" y1="486.7" x2="342.40000000000003" y2="486.7" stroke="#222" stroke-width="1.4" />
<line x1="337.2" y1="523.8" x2="342.40000000000003" y2="523.8" stroke="#222" stroke-width="1.4" />
<line x1="481" y1="473.7" x2="481" y2="511.6" stroke="#222" stroke-width="1.3" />
<line x1="478.4" y1="473.7" x2="483.6" y2="473.7" stroke="#222" stroke-width="1.4" />
<line x1="478.4" y1="511.6" x2="483.6" y2="511.6" stroke="#222" stroke-width="1.4" />
<polyline points="339.5,511.5 411,531.9 446,540.7 481,540" fill="none" stroke="#161616" stroke-width="2"/>
<polyline points="339.5,505 411,557.4 446,557.4 481,493.3" fill="none" stroke="#161616" stroke-width="2"/>
<circle cx="339.5" cy="505" r="3.4" fill="#3a3a3a" stroke="#161616" stroke-width="1.3"/>
<circle cx="411" cy="557.4" r="3.4" fill="#3a3a3a" stroke="#161616" stroke-width="1.3"/>
<circle cx="446" cy="557.4" r="3.4" fill="#3a3a3a" stroke="#161616" stroke-width="1.3"/>
<circle cx="481" cy="493.3" r="3.4" fill="#3a3a3a" stroke="#161616" stroke-width="1.3"/>
<circle cx="339.5" cy="511.5" r="3.4" fill="#fff" stroke="#161616" stroke-width="1.4"/>
<circle cx="411" cy="531.9" r="3.4" fill="#fff" stroke="#161616" stroke-width="1.4"/>
<circle cx="446" cy="540.7" r="3.4" fill="#fff" stroke="#161616" stroke-width="1.4"/>
<circle cx="481" cy="540" r="3.4" fill="#fff" stroke="#161616" stroke-width="1.4"/>
<line x1="339.8" y1="590.8" x2="339.8" y2="704.5" stroke="#3a3a3a" stroke-width="1.4" />
<line x1="339.8" y1="704.5" x2="486" y2="704.5" stroke="#3a3a3a" stroke-width="1.4" />
<line x1="337.3" y1="704.5" x2="339.8" y2="704.5" stroke="#3a3a3a" stroke-width="1.3" />
<text x="332.5" y="705.6" font-size="14.5" text-anchor="end" font-weight="normal" >0</text>
<line x1="337.3" y1="666.665" x2="339.8" y2="666.665" stroke="#3a3a3a" stroke-width="1.3" />
<text x="332.5" y="668.1" font-size="14.5" text-anchor="end" font-weight="normal" >5</text>
<line x1="337.3" y1="628.83" x2="339.8" y2="628.83" stroke="#3a3a3a" stroke-width="1.3" />
<text x="332.5" y="634.4000000000001" font-size="14.5" text-anchor="end" font-weight="normal" >10</text>
<line x1="337.3" y1="590.995" x2="339.8" y2="590.995" stroke="#3a3a3a" stroke-width="1.3" />
<text x="332.5" y="599.8000000000001" font-size="14.5" text-anchor="end" font-weight="normal" >15</text>
<line x1="376.15000000000003" y1="704.5" x2="376.15000000000003" y2="706.9" stroke="#3a3a3a" stroke-width="1.3" />
<line x1="412.5" y1="704.5" x2="412.5" y2="706.9" stroke="#3a3a3a" stroke-width="1.3" />
<line x1="448.85" y1="704.5" x2="448.85" y2="706.9" stroke="#3a3a3a" stroke-width="1.3" />
<line x1="485.20000000000005" y1="704.5" x2="485.20000000000005" y2="706.9" stroke="#3a3a3a" stroke-width="1.3" />
<line x1="339.8" y1="652" x2="339.8" y2="666.7" stroke="#222" stroke-width="1.3" />
<line x1="337.2" y1="652" x2="342.40000000000003" y2="652" stroke="#222" stroke-width="1.4" />
<line x1="337.2" y1="666.7" x2="342.40000000000003" y2="666.7" stroke="#222" stroke-width="1.4" />
<line x1="412.7" y1="626.5" x2="412.7" y2="649.7" stroke="#222" stroke-width="1.3" />
<line x1="410.09999999999997" y1="626.5" x2="415.3" y2="626.5" stroke="#222" stroke-width="1.4" />
<line x1="410.09999999999997" y1="649.7" x2="415.3" y2="649.7" stroke="#222" stroke-width="1.4" />
<line x1="448.6" y1="656.2" x2="448.6" y2="669.3" stroke="#222" stroke-width="1.3" />
<line x1="446.0" y1="656.2" x2="451.20000000000005" y2="656.2" stroke="#222" stroke-width="1.4" />
<line x1="446.0" y1="669.3" x2="451.20000000000005" y2="669.3" stroke="#222" stroke-width="1.4" />
<line x1="448.6" y1="673.9" x2="448.6" y2="684.7" stroke="#222" stroke-width="1.3" />
<line x1="446.0" y1="673.9" x2="451.20000000000005" y2="673.9" stroke="#222" stroke-width="1.4" />
<line x1="446.0" y1="684.7" x2="451.20000000000005" y2="684.7" stroke="#222" stroke-width="1.4" />
<line x1="485.2" y1="604.6" x2="485.2" y2="643.2" stroke="#222" stroke-width="1.3" />
<line x1="482.59999999999997" y1="604.6" x2="487.8" y2="604.6" stroke="#222" stroke-width="1.4" />
<line x1="482.59999999999997" y1="643.2" x2="487.8" y2="643.2" stroke="#222" stroke-width="1.4" />
<line x1="485.2" y1="653" x2="485.2" y2="667.4" stroke="#222" stroke-width="1.3" />
<line x1="482.59999999999997" y1="653" x2="487.8" y2="653" stroke="#222" stroke-width="1.4" />
<line x1="482.59999999999997" y1="667.4" x2="487.8" y2="667.4" stroke="#222" stroke-width="1.4" />
<polyline points="339.8,659.5 412.7,638.3 448.6,662.5 485.2,660.2" fill="none" stroke="#161616" stroke-width="2"/>
<polyline points="339.8,659.5 412.7,683.7 448.6,679.1 485.2,623.6" fill="none" stroke="#161616" stroke-width="2"/>
<circle cx="339.8" cy="659.5" r="3.4" fill="#fff" stroke="#161616" stroke-width="1.4"/>
<circle cx="412.7" cy="638.3" r="3.4" fill="#fff" stroke="#161616" stroke-width="1.4"/>
<circle cx="448.6" cy="662.5" r="3.4" fill="#fff" stroke="#161616" stroke-width="1.4"/>
<circle cx="485.2" cy="660.2" r="3.4" fill="#fff" stroke="#161616" stroke-width="1.4"/>
<circle cx="339.8" cy="659.5" r="3.4" fill="#3a3a3a" stroke="#161616" stroke-width="1.3"/>
<circle cx="412.7" cy="683.7" r="3.4" fill="#3a3a3a" stroke="#161616" stroke-width="1.3"/>
<circle cx="448.6" cy="679.1" r="3.4" fill="#3a3a3a" stroke="#161616" stroke-width="1.3"/>
<circle cx="485.2" cy="623.6" r="3.4" fill="#3a3a3a" stroke="#161616" stroke-width="1.3"/>
<line x1="341.3" y1="712.3" x2="341.3" y2="826.3" stroke="#3a3a3a" stroke-width="1.4" />
<line x1="341.3" y1="826.3" x2="491" y2="826.3" stroke="#3a3a3a" stroke-width="1.4" />
<line x1="338.8" y1="826.3" x2="341.3" y2="826.3" stroke="#3a3a3a" stroke-width="1.3" />
<text x="335" y="825.6" font-size="14.5" text-anchor="end" font-weight="normal" >0</text>
<line x1="338.8" y1="788.535" x2="341.3" y2="788.535" stroke="#3a3a3a" stroke-width="1.3" />
<text x="335" y="789.8000000000001" font-size="14.5" text-anchor="end" font-weight="normal" >5</text>
<line x1="338.8" y1="750.77" x2="341.3" y2="750.77" stroke="#3a3a3a" stroke-width="1.3" />
<text x="335" y="754.8000000000001" font-size="14.5" text-anchor="end" font-weight="normal" >10</text>
<line x1="338.8" y1="713.005" x2="341.3" y2="713.005" stroke="#3a3a3a" stroke-width="1.3" />
<text x="335" y="718.6" font-size="14.5" text-anchor="end" font-weight="normal" >15</text>
<line x1="378.5" y1="826.3" x2="378.5" y2="828.6999999999999" stroke="#3a3a3a" stroke-width="1.3" />
<line x1="415.70000000000005" y1="826.3" x2="415.70000000000005" y2="828.6999999999999" stroke="#3a3a3a" stroke-width="1.3" />
<line x1="452.90000000000003" y1="826.3" x2="452.90000000000003" y2="828.6999999999999" stroke="#3a3a3a" stroke-width="1.3" />
<line x1="490.1" y1="826.3" x2="490.1" y2="828.6999999999999" stroke="#3a3a3a" stroke-width="1.3" />
<line x1="415.6" y1="805.2" x2="415.6" y2="819.3" stroke="#222" stroke-width="1.3" />
<line x1="413.0" y1="805.2" x2="418.20000000000005" y2="805.2" stroke="#222" stroke-width="1.4" />
<line x1="413.0" y1="819.3" x2="418.20000000000005" y2="819.3" stroke="#222" stroke-width="1.4" />
<line x1="452.5" y1="759.8" x2="452.5" y2="771.9" stroke="#222" stroke-width="1.3" />
<line x1="449.9" y1="759.8" x2="455.1" y2="759.8" stroke="#222" stroke-width="1.4" />
<line x1="449.9" y1="771.9" x2="455.1" y2="771.9" stroke="#222" stroke-width="1.4" />
<line x1="490" y1="725.5" x2="490" y2="786.6" stroke="#222" stroke-width="1.3" />
<line x1="487.4" y1="725.5" x2="492.6" y2="725.5" stroke="#222" stroke-width="1.4" />
<line x1="487.4" y1="786.6" x2="492.6" y2="786.6" stroke="#222" stroke-width="1.4" />
<polyline points="341.4,823.5 415.6,810.5 452.5,813.7 490,811.8" fill="none" stroke="#161616" stroke-width="2"/>
<polyline points="341.4,823.5 415.6,811.8 452.5,766 490,755.6" fill="none" stroke="#161616" stroke-width="2"/>
<circle cx="341.4" cy="823.5" r="3.4" fill="#fff" stroke="#161616" stroke-width="1.4"/>
<circle cx="415.6" cy="810.5" r="3.4" fill="#fff" stroke="#161616" stroke-width="1.4"/>
<circle cx="452.5" cy="813.7" r="3.4" fill="#fff" stroke="#161616" stroke-width="1.4"/>
<circle cx="490" cy="811.8" r="3.4" fill="#fff" stroke="#161616" stroke-width="1.4"/>
<circle cx="341.4" cy="823.5" r="3.4" fill="#3a3a3a" stroke="#161616" stroke-width="1.3"/>
<circle cx="415.6" cy="811.8" r="3.4" fill="#3a3a3a" stroke="#161616" stroke-width="1.3"/>
<circle cx="452.5" cy="766" r="3.4" fill="#3a3a3a" stroke="#161616" stroke-width="1.3"/>
<circle cx="490" cy="755.6" r="3.4" fill="#3a3a3a" stroke="#161616" stroke-width="1.3"/>
<line x1="342" y1="837.7" x2="342" y2="950.8" stroke="#3a3a3a" stroke-width="1.4" />
<line x1="342" y1="950.8" x2="488" y2="950.8" stroke="#3a3a3a" stroke-width="1.4" />
<line x1="339.5" y1="950.0" x2="342" y2="950.0" stroke="#3a3a3a" stroke-width="1.3" />
<text x="334.5" y="950.6" font-size="14.5" text-anchor="end" font-weight="normal" >0</text>
<line x1="339.5" y1="912.665" x2="342" y2="912.665" stroke="#3a3a3a" stroke-width="1.3" />
<text x="334.5" y="916.9000000000001" font-size="14.5" text-anchor="end" font-weight="normal" >5</text>
<line x1="339.5" y1="875.33" x2="342" y2="875.33" stroke="#3a3a3a" stroke-width="1.3" />
<text x="334.5" y="880.2" font-size="14.5" text-anchor="end" font-weight="normal" >10</text>
<line x1="339.5" y1="837.995" x2="342" y2="837.995" stroke="#3a3a3a" stroke-width="1.3" />
<text x="334.5" y="844.8000000000001" font-size="14.5" text-anchor="end" font-weight="normal" >15</text>
<line x1="378.2" y1="950.8" x2="378.2" y2="953.1999999999999" stroke="#3a3a3a" stroke-width="1.3" />
<line x1="414.4" y1="950.8" x2="414.4" y2="953.1999999999999" stroke="#3a3a3a" stroke-width="1.3" />
<line x1="450.6" y1="950.8" x2="450.6" y2="953.1999999999999" stroke="#3a3a3a" stroke-width="1.3" />
<line x1="486.8" y1="950.8" x2="486.8" y2="953.1999999999999" stroke="#3a3a3a" stroke-width="1.3" />
<line x1="414.3" y1="929.7" x2="414.3" y2="935" stroke="#222" stroke-width="1.3" />
<line x1="411.7" y1="929.7" x2="416.90000000000003" y2="929.7" stroke="#222" stroke-width="1.4" />
<line x1="411.7" y1="935" x2="416.90000000000003" y2="935" stroke="#222" stroke-width="1.4" />
<line x1="450.3" y1="845.7" x2="450.3" y2="901.9" stroke="#222" stroke-width="1.3" />
<line x1="447.7" y1="845.7" x2="452.90000000000003" y2="845.7" stroke="#222" stroke-width="1.4" />
<line x1="447.7" y1="901.9" x2="452.90000000000003" y2="901.9" stroke="#222" stroke-width="1.4" />
<line x1="486.9" y1="852.9" x2="486.9" y2="892.7" stroke="#222" stroke-width="1.3" />
<line x1="484.29999999999995" y1="852.9" x2="489.5" y2="852.9" stroke="#222" stroke-width="1.4" />
<line x1="484.29999999999995" y1="892.7" x2="489.5" y2="892.7" stroke="#222" stroke-width="1.4" />
<polyline points="342,944.4 414.3,937.8 450.3,936.5 486.9,936.2" fill="none" stroke="#161616" stroke-width="2"/>
<polyline points="342,944.4 414.3,934.6 450.3,873.5 486.9,872.5" fill="none" stroke="#161616" stroke-width="2"/>
<circle cx="342" cy="944.4" r="3.4" fill="#fff" stroke="#161616" stroke-width="1.4"/>
<circle cx="414.3" cy="937.8" r="3.4" fill="#fff" stroke="#161616" stroke-width="1.4"/>
<circle cx="450.3" cy="936.5" r="3.4" fill="#fff" stroke="#161616" stroke-width="1.4"/>
<circle cx="486.9" cy="936.2" r="3.4" fill="#fff" stroke="#161616" stroke-width="1.4"/>
<circle cx="342" cy="944.4" r="3.4" fill="#3a3a3a" stroke="#161616" stroke-width="1.3"/>
<circle cx="414.3" cy="934.6" r="3.4" fill="#3a3a3a" stroke="#161616" stroke-width="1.3"/>
<circle cx="450.3" cy="873.5" r="3.4" fill="#3a3a3a" stroke="#161616" stroke-width="1.3"/>
<circle cx="486.9" cy="872.5" r="3.4" fill="#3a3a3a" stroke="#161616" stroke-width="1.3"/>
<text x="340.8" y="968.2" font-size="15" text-anchor="middle" font-weight="normal" >0</text>
<text x="378.4" y="968.2" font-size="15" text-anchor="middle" font-weight="normal" >1</text>
<text x="414" y="968.2" font-size="15" text-anchor="middle" font-weight="normal" >2</text>
<text x="449.5" y="968.2" font-size="15" text-anchor="middle" font-weight="normal" >3</text>
<text x="486.4" y="968.2" font-size="15" text-anchor="middle" font-weight="normal" >4</text>
<g transform="matrix(1.0313,0,0,1.0000,-10.85,0.00)"><text id="tDR" class="ta" x="317" y="992.6" font-size="17" text-anchor="start" font-weight="normal" >Days after LCMV infection</text></g>
<g transform="matrix(1.0000,0,0,1.0184,0.00,-9.63)"><text id="ryL1" class="yl" transform="translate(46.6,518.5) rotate(-90)" x="0" y="0" font-size="17" text-anchor="middle"># cells (x10<tspan font-size="11" dy="-4">7</tspan><tspan dy="4">)</tspan></text></g>
<g transform="matrix(1.0000,0,0,1.0820,0.00,-51.39)"><text id="ryL2a" class="yl" transform="translate(25,642) rotate(-90)" x="0" y="0" font-size="17" text-anchor="middle">IFN&#945;/&#946;</text></g>
<g transform="matrix(1.0000,0,0,1.0180,0.00,-9.70)"><text id="ryL2b" class="yl" transform="translate(43.5,639.5) rotate(-90)" x="0" y="0" font-size="17" text-anchor="middle">(x10<tspan font-size="11" dy="-4">2</tspan><tspan dy="4"> U/mL)</tspan></text></g>
<g transform="matrix(1.0000,0,0,1.0633,0.00,-50.15)"><text id="ryL3" class="yl" transform="translate(42.0,788) rotate(-90)" x="0" y="0" font-size="17" text-anchor="middle">IFN&#945; (ng/mL)</text></g>
<g transform="matrix(1.0000,0,0,1.0308,0.00,-13.47)"><text id="ryR1" class="yl" transform="translate(302.3,519.5) rotate(-90)" x="0" y="0" font-size="17" text-anchor="middle">% CD8 T cells</text></g>
<g transform="matrix(1.0000,0,0,1.0208,0.00,-13.14)"><text id="ryR2a" class="yl" transform="translate(282.8,650) rotate(-90)" x="0" y="0" font-size="17" text-anchor="middle"># CD8</text></g>
<g transform="matrix(1.0000,0,0,1.0633,0.00,-40.69)"><text id="ryR2b" class="yl" transform="translate(303.8,650.7) rotate(-90)" x="0" y="0" font-size="17" text-anchor="middle">T cells (x10<tspan font-size="11" dy="-4">6</tspan><tspan dy="4">)</tspan></text></g>
<g transform="matrix(1.0000,0,0,1.0172,0.00,-11.94)"><text id="ryR3a" class="yl" transform="translate(283.0,767.5) rotate(-90)" x="0" y="0" font-size="17" text-anchor="middle">% BrdU</text></g>
<g transform="matrix(1.0000,0,0,1.0581,0.00,-45.47)"><text id="ryR3b" class="yl" transform="translate(302.7,770) rotate(-90)" x="0" y="0" font-size="17" text-anchor="middle">CD8 T cells</text></g>
<g transform="matrix(1.0000,0,0,1.0364,0.00,-33.64)"><text id="ryR4a" class="yl" transform="translate(282.0,902) rotate(-90)" x="0" y="0" font-size="17" text-anchor="middle"># BrdU CD8 T</text></g>
<g transform="matrix(1.0000,0,0,1.0244,0.00,-22.18)"><text id="ryR4b" class="yl" transform="translate(303.8,901) rotate(-90)" x="0" y="0" font-size="17" text-anchor="middle">cells (x10<tspan font-size="11" dy="-4">5</tspan><tspan dy="4">)</tspan></text></g>
<line x1="115.7" y1="965.4" x2="142" y2="965.4" stroke="#161616" stroke-width="1.8" />
<circle cx="128.6" cy="965.2" r="5.3" fill="#fff" stroke="#161616" stroke-width="1.6"/>
<text x="154.4" y="969.5" font-size="14.5" text-anchor="start" font-weight="normal" >WT</text>
<line x1="115.7" y1="990" x2="142" y2="990" stroke="#161616" stroke-width="1.8" />
<circle cx="128.5" cy="990.1" r="5.2" fill="#333" stroke="#161616" stroke-width="1.3"/>
<text x="152.3" y="995" font-size="14.8" text-anchor="start" font-weight="normal" >STAT1</text>
<text x="197.2" y="989.2" font-size="12" text-anchor="start" font-weight="normal" >-/-</text>
</svg></body></html>
